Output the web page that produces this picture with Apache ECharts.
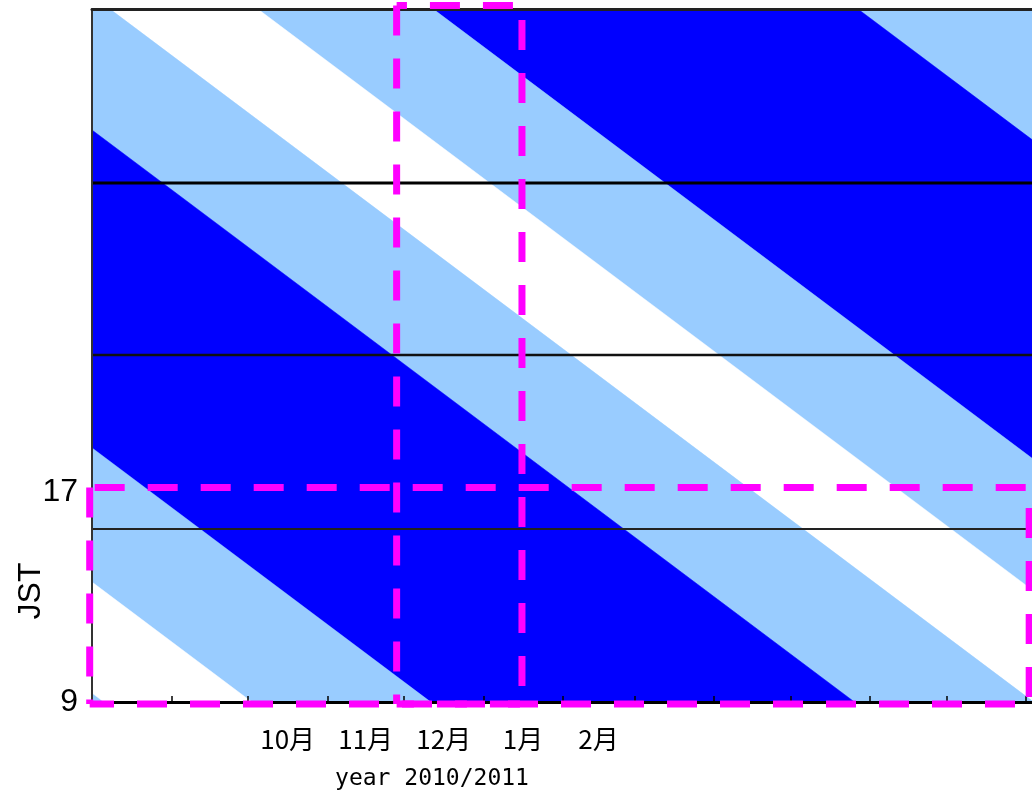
<!DOCTYPE html>
<html>
<head>
<meta charset="utf-8">
<script src="https://cdn.jsdelivr.net/npm/echarts@6/dist/echarts.min.js"></script>
<style>
  html, body { margin: 0; padding: 0; background: #fff; }
  #chart { width: 1032px; height: 791px; }
</style>
</head>
<body>
<div id="chart"></div>
<script>
// Season axis in days, day 0 = 1 Aug 2010.
const monthNames   = ['8月', '9月', '10月', '11月', '12月', '1月', '2月', '3月', '4月', '5月', '6月', '7月', '8月'];
const monthLengths = [31, 30, 31, 30, 31, 31, 28, 31, 30, 31, 30, 31, 31];
const labelledMonths = ['10月', '11月', '12月', '1月', '2月'];
const hourLabels = [9, 17];
const dayRange = [0, 367.5];
const hourRange = [9, 35.4];

// Band edges (JST hour) read at day 0 and day 400.
const edgeDays = [0, 400];
const edgeB2 = [57.29, 28.05];
const edgeC2 = [45.15, 15.91];
const edgeD2 = [40.14, 10.90];
const edgeA  = [35.91, 6.67];
const edgeB  = [30.79, 1.55];
const edgeC  = [18.68, -10.56];
const edgeD  = [13.57, -15.67];
const edgeE  = [9.34, -19.90];
const edges = [edgeB2, edgeC2, edgeD2, edgeA, edgeB, edgeC, edgeD, edgeE];
// what lies between consecutive edges, top to bottom
const bandKinds = ['high', 'mid', 'low', 'mid', 'high', 'mid', 'low'];

// Reference hours drawn as black rules.
const ruleHours = [28.77, 22.22, 15.59];

// Dashed boxes: [day from, day to] and [hour from, hour to].
const boxDays  = [[119.1, 168.1], [-0.9, 366.4]];
const boxHours = [[8.92, 35.53], [8.92, 17.17]];

const kindColor = { high: '#0000ff', mid: '#99ccff', low: '#ffffff' };
const ruleWidths = [3, 2.5, 2];
const ruleColors = ['#000', '#111', '#222'];
// dash offsets per box edge: top, right, bottom, left
const boxDashOffsets = [[19.7, 38.5, 12.7, 0], [48, 32.5, 5.7, 0]];

// month ticks at month starts, labels at month middles
const monthStarts = [];
let acc = 0;
monthLengths.forEach(function (len) { monthStarts.push(acc); acc += len; });
const tickDays = monthStarts.slice(1);
const labelMap = {};
const labelDays = [];
monthNames.forEach(function (name, i) {
  if (i >= 2 && i <= 6 && labelledMonths.indexOf(name) >= 0) {
    const mid = monthStarts[i] + monthLengths[i] / 2;
    labelMap[Math.round(mid * 2)] = name;
    labelDays.push(mid);
  }
});

const chart = echarts.init(document.getElementById('chart'), null, { renderer: 'canvas' });

const bandSeries = {
  type: 'custom',
  name: 'bands',
  coordinateSystem: 'cartesian2d',
  clip: true,
  silent: true,
  z: 2,
  data: bandKinds.map(function (k, i) { return [i]; }),
  renderItem: function (params, api) {
    const i = api.value(0);
    const up = edges[i], lo = edges[i + 1];
    const pts = [
      api.coord([edgeDays[0], up[0]]),
      api.coord([edgeDays[1], up[1]]),
      api.coord([edgeDays[1], lo[1]]),
      api.coord([edgeDays[0], lo[0]])
    ];
    return {
      type: 'polygon',
      shape: { points: pts },
      style: { fill: kindColor[bandKinds[i]], stroke: kindColor[bandKinds[i]], lineWidth: 0.5 }
    };
  }
};

const ruleSeries = ruleHours.map(function (h, i) {
  return {
    type: 'line',
    name: 'rule' + i,
    data: [[dayRange[0], h], [dayRange[1], h]],
    symbol: 'none',
    silent: true,
    z: 3,
    lineStyle: { color: ruleColors[i], width: ruleWidths[i] }
  };
});

const boxSeries = {
  type: 'custom',
  name: 'boxes',
  coordinateSystem: 'cartesian2d',
  clip: false,
  silent: true,
  z: 20,
  data: boxDays.map(function (d, i) { return [i]; }),
  renderItem: function (params, api) {
    const i = api.value(0);
    const d = boxDays[i], h = boxHours[i];
    const tl = api.coord([d[0], h[1]]);
    const tr = api.coord([d[1], h[1]]);
    const br = api.coord([d[1], h[0]]);
    const bl = api.coord([d[0], h[0]]);
    const segs = [[tl, tr], [tr, br], [bl, br], [tl, bl]];
    return {
      type: 'group',
      children: segs.map(function (s, k) {
        return {
          type: 'line',
          shape: { x1: s[0][0], y1: s[0][1], x2: s[1][0], y2: s[1][1] },
          style: {
            stroke: '#ff00ff',
            lineWidth: 7,
            lineDash: [30, 23],
            lineDashOffset: boxDashOffsets[i][k],
            lineCap: 'butt'
          }
        };
      })
    };
  }
};

const option = {
  animation: false,
  backgroundColor: '#ffffff',
  grid: {
    left: 92, top: 9, right: 0, height: 693,
    show: true, backgroundColor: '#99ccff', borderWidth: 0
  },
  xAxis: [{
    type: 'value',
    min: dayRange[0], max: dayRange[1],
    position: 'bottom',
    z: 10,
    splitLine: { show: false },
    axisLine: { show: true, lineStyle: { color: '#000', width: 3 } },
    axisTick: { show: true, inside: true, length: 6, customValues: tickDays,
                lineStyle: { color: '#000', width: 1.5 } },
    axisLabel: {
      show: true,
      customValues: labelDays,
      margin: 24,
      color: '#000',
      fontSize: 26,
      fontFamily: '"Noto Sans CJK JP", sans-serif',
      formatter: function (v) { return labelMap[Math.round(v * 2)] || ''; }
    }
  }, {
    type: 'value',
    min: dayRange[0], max: dayRange[1],
    position: 'top',
    z: 10,
    splitLine: { show: false },
    axisLine: { show: true, lineStyle: { color: '#222', width: 3 } },
    axisTick: { show: false },
    axisLabel: { show: false }
  }],
  yAxis: {
    type: 'value',
    min: hourRange[0],
    max: hourRange[1],
    z: 10,
    splitLine: { show: false },
    axisLine: { show: true, lineStyle: { color: '#333', width: 2 } },
    axisTick: { show: false },
    axisLabel: {
      show: true,
      customValues: hourLabels,
      margin: 14,
      color: '#000',
      fontSize: 32,
      fontFamily: '"Liberation Sans", Arial, sans-serif',
      formatter: function (v) { return String(v); }
    }
  },
  graphic: [{
    type: 'text',
    x: 31, y: 591,
    rotation: Math.PI / 2,
    style: {
      text: 'JST',
      fill: '#000',
      font: '32px "Liberation Sans", Arial, sans-serif',
      align: 'center',
      verticalAlign: 'middle'
    }
  }, {
    type: 'text',
    x: 432, y: 779,
    style: {
      text: 'year 2010/2011',
      fill: '#000',
      font: '23px "DejaVu Sans Mono", monospace',
      align: 'center',
      verticalAlign: 'middle'
    }
  }],
  series: [bandSeries].concat(ruleSeries).concat([boxSeries])
};

chart.setOption(option);
</script>
</body>
</html>
